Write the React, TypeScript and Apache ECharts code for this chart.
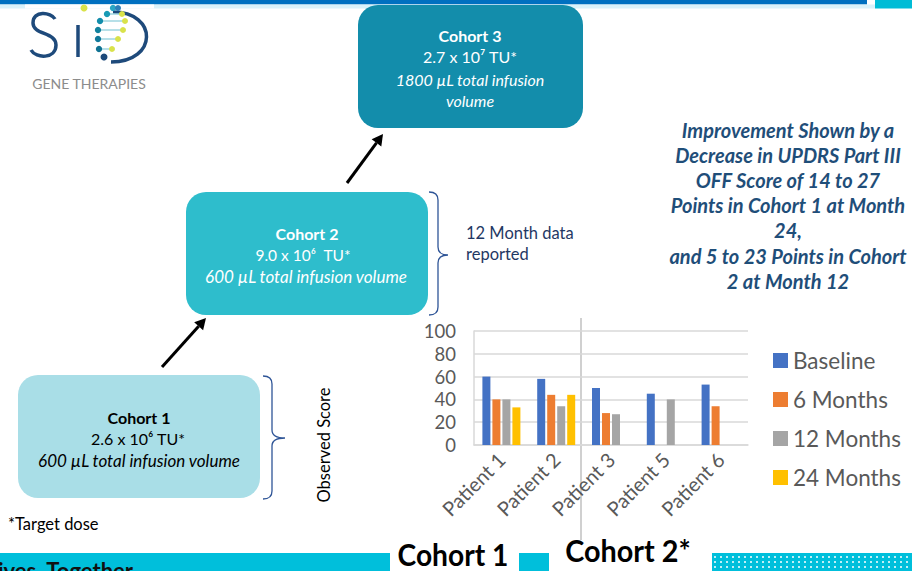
import React, { useEffect, useRef } from "react";
import * as echarts from "echarts";

const categories = ["Patient 1", "Patient 2", "Patient 3", "Patient 5", "Patient 6"];
const baseline = [60, 58, 50, 45, 53];
const sixMonths = [40, 44, 28, null, 34];
const twelveMonths = [40, 34, 27, 40, null];
const twentyFourMonths = [33, 44, null, null, null];
const seriesNames = ["Baseline", "6 Months", "12 Months", "24 Months"];
const seriesColors = ["#4472C4", "#ED7D31", "#A5A5A5", "#FFC000"];

const calloutLines = [
  "Improvement Shown by a",
  "Decrease in UPDRS Part III",
  "OFF Score of 14 to 27",
  "Points in Cohort 1 at Month",
  "24,",
  "and 5 to 23 Points in Cohort",
  "2 at Month 12",
];

const FONT = "Lato, 'Open Sans', sans-serif";

echarts.graphic.registerShape(
  "logoS",
  echarts.graphic.extendPath("M 55 19 C 51 12 33 10 33 23 C 33 35 56 32 56 45 C 56 59 36 59 31 50", {})
);
echarts.graphic.registerShape(
  "logoD",
  echarts.graphic.extendPath("M 113 12 C 158 12 158 62 111 62", {})
);
echarts.graphic.registerShape(
  "bracket1",
  echarts.graphic.extendPath("M 263 376 Q 272 376 272 384 L 272 430 Q 272 438 285 438 Q 272 438 272 446 L 272 491 Q 272 499 263 499", {})
);
echarts.graphic.registerShape(
  "bracket2",
  echarts.graphic.extendPath("M 429 192 Q 438 192 438 200 L 438 247 Q 438 255 448 255 Q 438 255 438 263 L 438 307 Q 438 315 429 315", {})
);

function txt(text: string, x: number, y: number, opts: any = {}) {
  return {
    type: "text",
    silent: true,
    style: {
      text,
      x,
      y,
      fill: opts.fill || "#000",
      fontSize: opts.fontSize || 15,
      fontWeight: opts.fontWeight || "normal",
      fontStyle: opts.fontStyle || "normal",
      fontFamily: opts.fontFamily || FONT,
      textAlign: opts.align || "center",
      align: opts.align || "center",
      textVerticalAlign: opts.valign || "middle",
      verticalAlign: opts.valign || "middle",
      lineHeight: opts.lineHeight,
    },
    ...(opts.extra || {}),
  };
}

function arrow(x1: number, y1: number, x2: number, y2: number) {
  const dx = x2 - x1;
  const dy = y2 - y1;
  const len = Math.sqrt(dx * dx + dy * dy);
  const ux = dx / len;
  const uy = dy / len;
  const hl = 11;
  const hw = 6;
  const bx = x2 - ux * hl;
  const by = y2 - uy * hl;
  return [
    { type: "line", silent: true, shape: { x1, y1, x2: bx, y2: by }, style: { stroke: "#000", lineWidth: 3 } },
    {
      type: "polygon",
      silent: true,
      shape: { points: [[x2, y2], [bx - uy * hw, by + ux * hw], [bx + uy * hw, by - ux * hw]] },
      style: { fill: "#000" },
    },
  ];
}

function roundBox(x: number, y: number, w: number, h: number, fill: string) {
  return { type: "rect", silent: true, shape: { x, y, width: w, height: h, r: 20 }, style: { fill } };
}

export default function App() {
  const ref = useRef<HTMLDivElement>(null);
  useEffect(() => {
    if (!ref.current) return;
    const chart = echarts.init(ref.current, undefined, { renderer: "svg" });
    const dataSets = [baseline, sixMonths, twelveMonths, twentyFourMonths];

    const logoDots: any[] = [];
    const rows = [
      [8, 113, 118, "#2BA7C4", "#2E7FB8"],
      [14, 107, 122, "#1A9BB5", "#D9E24A"],
      [21, 100, 125, "#138DAB", "#D9E24A"],
      [30, 98, 123, "#12829E", "#D9E24A"],
      [39, 98, 118, "#11799A", "#D9E24A"],
      [49, 99, 112, "#117393", "#D9E24A"],
    ];
    rows.forEach((r: any) => {
      logoDots.push({ type: "line", silent: true, shape: { x1: r[1], y1: r[0], x2: r[2], y2: r[0] }, style: { stroke: "#9FD6E0", lineWidth: 1.5 } });
      logoDots.push({ type: "circle", silent: true, shape: { cx: r[1], cy: r[0], r: 3.2 }, style: { fill: r[3] } });
      logoDots.push({ type: "circle", silent: true, shape: { cx: r[2], cy: r[0], r: 3 }, style: { fill: r[4] } });
    });

    const observed: any = txt("Observed Score", 0, 0, { fontSize: 16.5 });
    observed.x = 324;
    observed.y = 445;
    observed.rotation = Math.PI / 2;

    const graphics: any[] = [
      // top bars
      { type: "rect", silent: true, shape: { x: 0, y: 0, width: 867, height: 4.5 }, style: { fill: "#0070C0" } },
      { type: "rect", silent: true, shape: { x: 0, y: 4.5, width: 875, height: 4 }, style: { fill: "#DAF2FA" } },
      { type: "rect", silent: true, shape: { x: 25, y: 4.5, width: 129, height: 4 }, style: { fill: "#FFFFFF" } },
      { type: "rect", silent: true, shape: { x: 875, y: 0, width: 37, height: 8.5 }, style: { fill: "#00BCD6" } },
      // logo
      { type: "logoS", silent: true, style: { stroke: "#1E4A7B", lineWidth: 3.5, fill: "none" } },
      { type: "line", silent: true, shape: { x1: 78, y1: 25, x2: 78, y2: 57 }, style: { stroke: "#1E4A7B", lineWidth: 3.5 } },
      { type: "circle", silent: true, shape: { cx: 84, cy: 8, r: 3.5 }, style: { fill: "#D9E24A" } },
      { type: "logoD", silent: true, style: { stroke: "#1E4A7B", lineWidth: 3.5, fill: "none" } },
      ...logoDots,
      { type: "circle", silent: true, shape: { cx: 104, cy: 57, r: 3.5 }, style: { fill: "#1E4A7B" } },
      txt("GENE THERAPIES", 89, 83, { fontSize: 14, fill: "#8C8C8C" }),
      // boxes
      roundBox(358, 5, 225, 123, "#138DAB"),
      txt("Cohort 3", 470, 35, { fill: "#fff", fontWeight: "bold", fontSize: 16 }),
      txt("2.7 x 10\u2077 TU*", 470, 56, { fill: "#fff", fontSize: 16 }),
      txt("1800 \u00b5L total infusion", 470, 79, { fill: "#fff", fontStyle: "italic", fontSize: 16 }),
      txt("volume", 470, 100, { fill: "#fff", fontStyle: "italic", fontSize: 16 }),
      roundBox(186, 192, 242, 123, "#2EBDCC"),
      txt("Cohort 2", 307, 233, { fill: "#fff", fontWeight: "bold", fontSize: 16 }),
      txt("9.0 x 10\u2076  TU*", 303, 255, { fill: "#fff", fontSize: 15.5 }),
      txt("600 \u00b5L total infusion volume", 306, 276, { fill: "#fff", fontStyle: "italic", fontSize: 17 }),
      roundBox(18, 375, 242, 123, "#A9DEE7"),
      txt("Cohort 1", 139, 417, { fontWeight: "bold", fontSize: 16 }),
      txt("2.6 x 10\u2076 TU*", 138, 438, { fontSize: 16 }),
      txt("600 \u00b5L total infusion volume", 139, 460, { fontStyle: "italic", fontSize: 17 }),
      // brackets
      { type: "bracket1", silent: true, style: { stroke: "#2F5597", lineWidth: 1.3, fill: "none" } },
      { type: "bracket2", silent: true, style: { stroke: "#2F5597", lineWidth: 1.3, fill: "none" } },
      txt("12 Month data", 466, 233, { align: "left", fill: "#1F3864", fontSize: 16.5 }),
      txt("reported", 466, 254, { align: "left", fill: "#1F3864", fontSize: 16.5 }),
      // arrows
      ...arrow(162, 367, 206, 318),
      ...arrow(347, 183, 383, 134),
      // side texts
      observed,
      txt("*Target dose", 8, 524, { align: "left", fontSize: 16.5 }),
      txt(calloutLines.join("\n"), 788, 117, {
        valign: "top",
        fontSize: 20,
        fontWeight: "bold",
        fontStyle: "italic",
        fill: "#1F4E79",
        lineHeight: 25.2,
      }),
      // separator
      { type: "line", silent: true, shape: { x1: 581, y1: 318, x2: 581, y2: 540 }, style: { stroke: "#D0D0D0", lineWidth: 2 } },
      // bottom band
      { type: "rect", silent: true, shape: { x: 0, y: 553, width: 390, height: 18 }, style: { fill: "#00BFDB" } },
      txt("ives  Together", -2, 559, { align: "left", valign: "top", fontSize: 22, fontWeight: "bold", fill: "#111" }),
      { type: "rect", silent: true, shape: { x: 519, y: 553, width: 30, height: 18 }, style: { fill: "#00BFDB" } },
      { type: "rect", silent: true, shape: { x: 712, y: 553, width: 200, height: 18 }, style: { fill: "#00BFDB" } },
      { type: "line", silent: true, shape: { x1: 714, y1: 557, x2: 912, y2: 557 }, style: { stroke: "#FFFFFF", lineWidth: 1.5, lineDash: [2, 4] } },
      { type: "line", silent: true, shape: { x1: 714, y1: 562, x2: 912, y2: 562 }, style: { stroke: "#FFFFFF", lineWidth: 1.5, lineDash: [2, 4] } },
      { type: "line", silent: true, shape: { x1: 714, y1: 567, x2: 912, y2: 567 }, style: { stroke: "#FFFFFF", lineWidth: 1.5, lineDash: [2, 4] } },
      txt("Cohort 1", 453, 554, { fontSize: 30, fontWeight: "bold", extra: { scaleX: 0.94, originX: 453, originY: 554 } }),
      txt("Cohort 2*", 628, 550, { fontSize: 30, fontWeight: "bold", extra: { scaleX: 0.96, originX: 628, originY: 550 } }),
    ];

    chart.setOption({
      animation: false,
      backgroundColor: "#FFFFFF",
      grid: { left: 474, right: 164, top: 331, bottom: 126 },
      legend: {
        orient: "vertical",
        left: 768,
        top: 344,
        itemWidth: 15,
        itemHeight: 15,
        itemGap: 16,
        icon: "rect",
        textStyle: { fontSize: 22.5, color: "#595959", fontFamily: FONT, lineHeight: 23 },
        data: seriesNames,
      },
      xAxis: {
        type: "category",
        data: categories,
        axisTick: { show: false },
        axisLine: { lineStyle: { color: "#D9D9D9", width: 1.5 } },
        axisLabel: { rotate: 45, fontSize: 20, color: "#595959", fontFamily: FONT, margin: 11, interval: 0 },
      },
      yAxis: {
        type: "value",
        min: 0,
        max: 100,
        interval: 20,
        axisLine: { show: true, lineStyle: { color: "#D9D9D9", width: 1.5 } },
        axisTick: { show: false },
        splitLine: { lineStyle: { color: "#D9D9D9", width: 1.5 } },
        axisLabel: { fontSize: 18.5, color: "#595959", fontFamily: FONT, margin: 18 },
      },
      series: seriesNames.map((name, i) => ({
        name,
        type: "bar",
        data: dataSets[i],
        barWidth: 8,
        barGap: "25%",
        itemStyle: { color: seriesColors[i] },
      })),
      graphic: { elements: graphics },
    });
    return () => chart.dispose();
  }, []);
  return (
    <div style={{ position: "fixed", left: 0, top: 0, width: 912, height: 571, background: "#fff" }}>
      <div ref={ref} style={{ width: 912, height: 571 }} />
    </div>
  );
}
